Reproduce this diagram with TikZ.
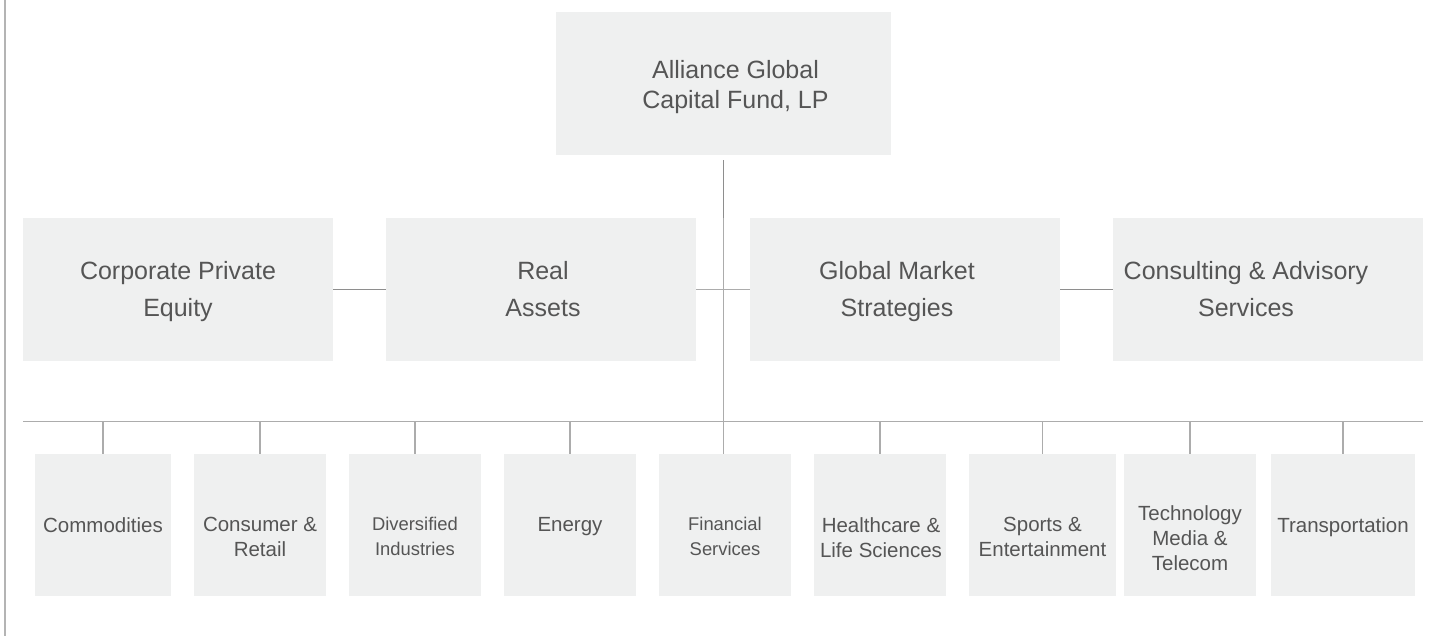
\documentclass[tikz,border=0pt]{standalone}
\usepackage{fontspec}
\setmainfont{Liberation Sans}
\definecolor{boxgrey}{HTML}{EFF0F0}
\definecolor{textgrey}{HTML}{555555}
\definecolor{linegrey}{HTML}{ACACAC}
\definecolor{darkgrey}{HTML}{8E8E8E}
\definecolor{framegrey}{HTML}{B4B4B4}
\begin{document}
\begin{tikzpicture}[x=1pt, y=-1pt,
  box node/.style={rectangle, fill=boxgrey, draw=none, inner sep=0pt},
  fund node/.style={box node, minimum width=335pt, minimum height=143pt},
  unit node/.style={box node, minimum width=310pt, minimum height=143pt},
  sector node/.style={box node, minimum width=132pt, minimum height=142pt},
  label node/.style={inner sep=0pt, align=center, text=textgrey, anchor=north},
  fund text/.style={label node, font=\fontsize{25}{30}\selectfont},
  unit text/.style={label node, font=\fontsize{25}{37}\selectfont},
  sector text/.style={label node, font=\fontsize{20.5}{25}\selectfont},
  small text/.style={label node, font=\fontsize{18.4}{25}\selectfont},
  link/.style={draw=linegrey, line width=1.3pt},
  dark link/.style={draw=darkgrey, line width=1.3pt}]
\useasboundingbox (0,0) rectangle (1430,636);
\draw[framegrey, line width=2pt] (5,0) -- (5,636);
% boxes
\node[fund node] (fund) at (723.5,83.5) {};
\node[unit node] (cpe) at (178,289.5) {};
\node[unit node] (ra) at (541,289.5) {};
\node[unit node] (gms) at (905,289.5) {};
\node[unit node] (cas) at (1268,289.5) {};
\node[sector node, minimum width=136pt] (s1) at (103,525) {};
\node[sector node] (s2) at (260,525) {};
\node[sector node] (s3) at (415,525) {};
\node[sector node] (s4) at (570,525) {};
\node[sector node] (s5) at (725,525) {};
\node[sector node] (s6) at (880,525) {};
\node[sector node, minimum width=147pt] (s7) at (1042.5,525) {};
\node[sector node] (s8) at (1190,525) {};
\node[sector node, minimum width=144pt] (s9) at (1343,525) {};
% texts
\node[fund text] (fundT) at (735.5,60) {Alliance Global\\Capital Fund, LP};
\node[unit text] (cpeT) at (178,261) {Corporate Private\\Equity};
\node[unit text] (raT) at (543,261) {Real\\Assets};
\node[unit text] (gmsT) at (897,261) {Global Market\\Strategies};
\node[unit text] (casT) at (1246,261) {Consulting \& Advisory\\Services};
\node[sector text] (t1) at (103,517) {Commodities};
\node[sector text] (t2) at (260,517) {Consumer \&\\Retail};
\node[small text] (t3) at (415,517) {Diversified\\Industries};
\node[sector text] (t4) at (570,517) {Energy};
\node[small text] (t5) at (725,517) {Financial\\Services};
\node[sector text] (t6) at (881,517) {Healthcare \&\\Life Sciences};
\node[sector text] (t7) at (1042.5,517) {Sports \&\\Entertainment};
\node[sector text] (t8) at (1190,505) {Technology\\Media \&\\Telecom};
\node[sector text] (t9) at (1343,517) {Transportation};
% lines
\coordinate (busL) at (23,421.5);
\coordinate (busR) at (1423,421.5);
\draw[dark link, shorten <=5pt] (fund.south) -- (fund.south |- ra.north);
\draw[link] (fund.south |- ra.north) -- (fund.south |- s5.north);
\draw[dark link] (cpe) edge (ra);
\draw[link] (ra) edge (gms);
\draw[dark link] (gms) edge (cas);
\draw[link] (busL) edge (busR);
\draw[link] (s1) edge (s1 |- busL);
\draw[link] (s2) edge (s2 |- busL);
\draw[link] (s3) edge (s3 |- busL);
\draw[link] (s4) edge (s4 |- busL);
\draw[link] (s6) edge (s6 |- busL);
\draw[link] (s7) edge (s7 |- busL);
\draw[link] (s8) edge (s8 |- busL);
\draw[link] (s9) edge (s9 |- busL);
\end{tikzpicture}
\end{document}
